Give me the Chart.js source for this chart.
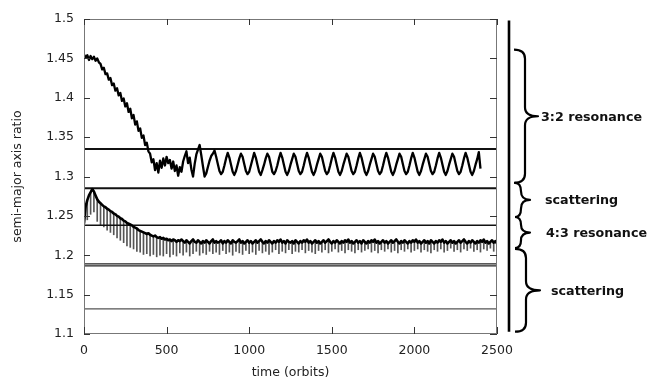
<!DOCTYPE html>
<html>
<head>
<meta charset="utf-8">
<script src="https://cdn.jsdelivr.net/npm/chart.js@4/dist/chart.umd.min.js"></script>
<style>
  html, body { margin: 0; padding: 0; background: #fff; }
  canvas { display: block; }
</style>
</head>
<body>
<canvas id="chart" width="654" height="381"></canvas>
<script>
// sample spacing of the series, in orbits
var sampleStep = 10;
var spikeStep = 20;

// outer pair (3:2) - semi-major axis ratio, t = 0..2400
var upperRatio = [
    1.455, 1.451, 1.454, 1.448, 1.453, 1.449, 1.452, 1.447, 1.450, 1.445,
    1.443, 1.436, 1.438, 1.430, 1.431, 1.423, 1.425, 1.416, 1.418, 1.409,
    1.412, 1.403, 1.406, 1.396, 1.399, 1.389, 1.393, 1.382, 1.386, 1.374,
    1.378, 1.366, 1.370, 1.358, 1.361, 1.349, 1.352, 1.340, 1.343, 1.332,
    1.329, 1.318, 1.322, 1.308, 1.317, 1.305, 1.320, 1.311, 1.323, 1.314,
    1.325, 1.317, 1.321, 1.310, 1.319, 1.307, 1.314, 1.301, 1.312, 1.306,
    1.319, 1.326, 1.332, 1.317, 1.324, 1.309, 1.300, 1.316, 1.328, 1.334,
    1.340, 1.327, 1.313, 1.300, 1.304, 1.312, 1.320, 1.326, 1.329, 1.333,
    1.325, 1.316, 1.307, 1.303, 1.306, 1.314, 1.323, 1.330, 1.324, 1.315,
    1.306, 1.302, 1.307, 1.315, 1.323, 1.329, 1.325, 1.316, 1.307, 1.303,
    1.306, 1.314, 1.322, 1.330, 1.324, 1.315, 1.306, 1.302, 1.308, 1.315,
    1.323, 1.329, 1.325, 1.316, 1.306, 1.303, 1.307, 1.314, 1.323, 1.330,
    1.324, 1.315, 1.306, 1.302, 1.307, 1.315, 1.322, 1.329, 1.325, 1.316,
    1.307, 1.303, 1.306, 1.314, 1.323, 1.330, 1.324, 1.315, 1.306, 1.302,
    1.307, 1.315, 1.322, 1.329, 1.325, 1.316, 1.307, 1.303, 1.306, 1.314,
    1.323, 1.330, 1.324, 1.315, 1.306, 1.302, 1.307, 1.315, 1.322, 1.329,
    1.325, 1.316, 1.307, 1.303, 1.306, 1.314, 1.323, 1.330, 1.324, 1.315,
    1.306, 1.302, 1.307, 1.315, 1.322, 1.329, 1.325, 1.316, 1.307, 1.303,
    1.306, 1.314, 1.323, 1.330, 1.324, 1.315, 1.306, 1.302, 1.307, 1.315,
    1.322, 1.329, 1.325, 1.316, 1.307, 1.303, 1.306, 1.314, 1.323, 1.330,
    1.324, 1.315, 1.306, 1.302, 1.307, 1.315, 1.322, 1.329, 1.325, 1.316,
    1.307, 1.303, 1.306, 1.314, 1.323, 1.330, 1.324, 1.315, 1.306, 1.302,
    1.307, 1.315, 1.322, 1.329, 1.325, 1.316, 1.307, 1.303, 1.306, 1.314,
    1.323, 1.330, 1.324, 1.315, 1.306, 1.302, 1.307, 1.315, 1.322, 1.331,
    1.310
];

// inner pair (4:3) - main band, t = 0..2500
var lowerBand = [
    1.240, 1.262, 1.270, 1.276, 1.280, 1.284, 1.281, 1.276, 1.271, 1.268,
    1.266, 1.264, 1.262, 1.261, 1.259, 1.258, 1.256, 1.255, 1.253, 1.252,
    1.250, 1.249, 1.247, 1.246, 1.244, 1.243, 1.241, 1.240, 1.239, 1.238,
    1.236, 1.235, 1.234, 1.232, 1.231, 1.230, 1.229, 1.228, 1.227, 1.228,
    1.226, 1.225, 1.224, 1.225, 1.223, 1.222, 1.223, 1.221, 1.222, 1.220,
    1.221, 1.219, 1.220, 1.218, 1.220, 1.219, 1.217, 1.219, 1.218, 1.220,
    1.218, 1.216, 1.219, 1.217, 1.215, 1.218, 1.220, 1.217, 1.216, 1.219,
    1.217, 1.215, 1.218, 1.216, 1.219, 1.217, 1.215, 1.218, 1.220, 1.216,
    1.218, 1.216, 1.217, 1.219, 1.215, 1.218, 1.216, 1.219, 1.217, 1.215,
    1.219, 1.217, 1.216, 1.218, 1.220, 1.216, 1.218, 1.215, 1.217, 1.219,
    1.216, 1.218, 1.215, 1.217, 1.219, 1.216, 1.218, 1.220, 1.217, 1.215,
    1.218, 1.216, 1.219, 1.217, 1.215, 1.218, 1.216, 1.219, 1.217, 1.220,
    1.216, 1.218, 1.215, 1.219, 1.217, 1.216, 1.218, 1.215, 1.219, 1.217,
    1.215, 1.218, 1.216, 1.219, 1.217, 1.220, 1.216, 1.218, 1.215, 1.217,
    1.219, 1.216, 1.218, 1.215, 1.217, 1.219, 1.216, 1.218, 1.220, 1.217,
    1.215, 1.218, 1.216, 1.219, 1.217, 1.215, 1.218, 1.216, 1.219, 1.217,
    1.220, 1.216, 1.218, 1.215, 1.217, 1.219, 1.216, 1.218, 1.215, 1.219,
    1.217, 1.215, 1.218, 1.216, 1.219, 1.217, 1.220, 1.216, 1.218, 1.215,
    1.217, 1.219, 1.216, 1.218, 1.215, 1.217, 1.219, 1.216, 1.218, 1.220,
    1.217, 1.215, 1.218, 1.216, 1.219, 1.217, 1.215, 1.218, 1.216, 1.219,
    1.217, 1.220, 1.216, 1.218, 1.215, 1.217, 1.219, 1.216, 1.218, 1.215,
    1.219, 1.217, 1.215, 1.218, 1.216, 1.219, 1.217, 1.220, 1.216, 1.218,
    1.215, 1.217, 1.219, 1.216, 1.218, 1.215, 1.217, 1.219, 1.216, 1.218,
    1.220, 1.217, 1.215, 1.218, 1.216, 1.219, 1.217, 1.215, 1.218, 1.216,
    1.219, 1.217, 1.220, 1.216, 1.218, 1.215, 1.217, 1.219, 1.216, 1.218,
    1.215
];

// inner pair - bottom of the short downward spikes, every 20 orbits
var lowerDips = [
    1.240, 1.245, 1.252, 1.255, 1.243, 1.238, 1.236, 1.232, 1.229, 1.226,
    1.222, 1.219, 1.216, 1.212, 1.210, 1.208, 1.205, 1.204, 1.201, 1.202,
    1.199, 1.201, 1.198, 1.200, 1.199, 1.202, 1.198, 1.201, 1.199, 1.203,
    1.200, 1.204, 1.199, 1.202, 1.205, 1.200, 1.203, 1.201, 1.205, 1.202,
    1.204, 1.201, 1.206, 1.202, 1.204, 1.200, 1.205, 1.203, 1.201, 1.206,
    1.202, 1.204, 1.201, 1.206, 1.203, 1.205, 1.201, 1.204, 1.207, 1.202,
    1.205, 1.203, 1.207, 1.202, 1.205, 1.204, 1.207, 1.203, 1.206, 1.204,
    1.202, 1.206, 1.204, 1.207, 1.203, 1.205, 1.208, 1.204, 1.206, 1.203,
    1.207, 1.205, 1.203, 1.207, 1.204, 1.206, 1.208, 1.204, 1.206, 1.203,
    1.207, 1.205, 1.208, 1.204, 1.206, 1.203, 1.207, 1.205, 1.208, 1.204,
    1.206, 1.208, 1.204, 1.207, 1.205, 1.203, 1.207, 1.205, 1.208, 1.204,
    1.206, 1.209, 1.205, 1.207, 1.204, 1.208, 1.206, 1.209, 1.205, 1.207,
    1.204, 1.208, 1.206, 1.209, 1.205, 1.210
];

// resonance boundaries drawn across the plot
var levels = [1.335, 1.285, 1.238, 1.189, 1.1865, 1.132];

// bracket labels on the right, with the ratio span each one covers
var braceLabels = ['3:2 resonance', 'scattering', '4:3 resonance', 'scattering'];
var braceSpans = [[1.461, 1.292], [1.292, 1.2486], [1.2486, 1.209], [1.208, 1.103]];
var barSpan = [1.498, 1.103];

var xTicks = { min: 0, max: 2500, step: 500 };
var yTicks = { min: 1.1, max: 1.5, step: 0.05 };

function toPoints(vals, step) {
    return vals.map(function (v, i) { return { x: i * step, y: v }; });
}

var levelWidth = [2, 2, 1.5, 1.2, 1.2, 1.2];
var levelColor = ['#111', '#111', '#111', '#222', '#222', '#555'];

var datasets = [];
datasets.push({
    type: 'line', data: toPoints(upperRatio, sampleStep),
    borderColor: '#000', borderWidth: 2.3, order: 0
});
datasets.push({
    type: 'line', data: toPoints(lowerBand, sampleStep),
    borderColor: '#000', borderWidth: 2.6, order: 0
});
levels.forEach(function (v, i) {
    datasets.push({
        type: 'line', data: [{ x: xTicks.min, y: v }, { x: xTicks.max, y: v }],
        borderColor: levelColor[i], borderWidth: levelWidth[i], order: 2
    });
});
datasets.push({
    type: 'bar',
    data: lowerDips.map(function (d, i) {
        return { x: i * spikeStep, y: [d, lowerBand[i * spikeStep / sampleStep]] };
    }),
    backgroundColor: '#555', borderWidth: 0, barThickness: 1, order: 3
});

function drawBrace(ctx, x0, xs, xt, yTop, yBot) {
    var ym = (yTop + yBot) / 2;
    var r = Math.min(9, (yBot - yTop) / 4);
    ctx.beginPath();
    ctx.moveTo(x0, yTop);
    ctx.quadraticCurveTo(xs, yTop, xs, yTop + r);
    ctx.lineTo(xs, ym - r);
    ctx.quadraticCurveTo(xs, ym, xt, ym);
    ctx.quadraticCurveTo(xs, ym, xs, ym + r);
    ctx.lineTo(xs, yBot - r);
    ctx.quadraticCurveTo(xs, yBot, x0, yBot);
    ctx.stroke();
}

// gnuplot-like frame with inward ticks, plus the brackets on the right
var framePlugin = {
    id: 'framePlugin',
    afterDraw: function (chart) {
        var ctx = chart.ctx, a = chart.chartArea;
        var xs = chart.scales.x, ys = chart.scales.y;
        ctx.save();
        ctx.lineWidth = 1;
        ctx.strokeStyle = '#777';
        ctx.strokeRect(a.left + 0.5, a.top + 0.5, a.right - a.left - 1, a.bottom - a.top - 1);

        ctx.strokeStyle = '#333';
        ctx.beginPath();
        xs.ticks.forEach(function (t) {
            var px = Math.round(xs.getPixelForValue(t.value)) + 0.5;
            ctx.moveTo(px, a.bottom); ctx.lineTo(px, a.bottom - 7);
            ctx.moveTo(px, a.top); ctx.lineTo(px, a.top + 6);
        });
        ys.ticks.forEach(function (t) {
            var py = Math.round(ys.getPixelForValue(t.value)) + 0.5;
            ctx.moveTo(a.left, py); ctx.lineTo(a.left + 6, py);
            ctx.moveTo(a.right, py); ctx.lineTo(a.right - 7, py);
        });
        ctx.stroke();

        // long vertical bar
        ctx.strokeStyle = '#000';
        ctx.lineWidth = 2.6;
        ctx.beginPath();
        ctx.moveTo(509, ys.getPixelForValue(barSpan[0]));
        ctx.lineTo(509, ys.getPixelForValue(barSpan[1]));
        ctx.stroke();

        var shape = [[514, 525, 538, 541], [515, 521, 530, 545], [515, 521, 530, 546], [515, 526, 540, 551]];
        ctx.lineWidth = 2.2;
        ctx.lineJoin = 'round';
        ctx.fillStyle = '#111';
        ctx.font = 'bold 12.7px "DejaVu Sans"';
        ctx.textBaseline = 'middle';
        braceSpans.forEach(function (s, i) {
            var yTop = ys.getPixelForValue(s[0]);
            var yBot = ys.getPixelForValue(s[1]);
            var g = shape[i];
            drawBrace(ctx, g[0], g[1], g[2], yTop, yBot);
            ctx.fillText(braceLabels[i], g[3], (yTop + yBot) / 2 + 1);
        });
        ctx.restore();
    }
};

var tickFont = { family: 'DejaVu Sans', size: 12.5 };

new Chart(document.getElementById('chart'), {
    type: 'line',
    data: { datasets: datasets },
    options: {
        responsive: false,
        animation: false,
        layout: { padding: { top: 19, right: 157, left: 0, bottom: 0 } },
        elements: {
            point: { radius: 0 },
            line: { tension: 0, fill: false, borderJoinStyle: 'round' }
        },
        plugins: { legend: { display: false }, tooltip: { enabled: false } },
        scales: {
            x: {
                type: 'linear', min: xTicks.min, max: xTicks.max, offset: false,
                grid: { display: false, drawTicks: false },
                border: { display: false },
                ticks: {
                    stepSize: xTicks.step, padding: 9, color: '#222', font: tickFont, maxRotation: 0,
                    callback: function (v) { return String(v); }
                },
                title: { display: true, text: 'time (orbits)', color: '#222', font: tickFont, padding: { top: 0, bottom: 1 } },
                afterFit: function (s) { s.height = 47; }
            },
            y: {
                type: 'linear', min: yTicks.min, max: yTicks.max, beginAtZero: false,
                grid: { display: false, drawTicks: false },
                border: { display: false },
                ticks: {
                    stepSize: yTicks.step, padding: 10, color: '#222', font: tickFont,
                    callback: function (v) { return String(+v.toFixed(2)); }
                },
                title: { display: true, text: 'semi-major axis ratio', color: '#222', font: tickFont, padding: { top: 10.5, bottom: 0 } },
                afterFit: function (s) { s.width = 84; }
            }
        }
    },
    plugins: [framePlugin]
});
</script>
</body>
</html>
